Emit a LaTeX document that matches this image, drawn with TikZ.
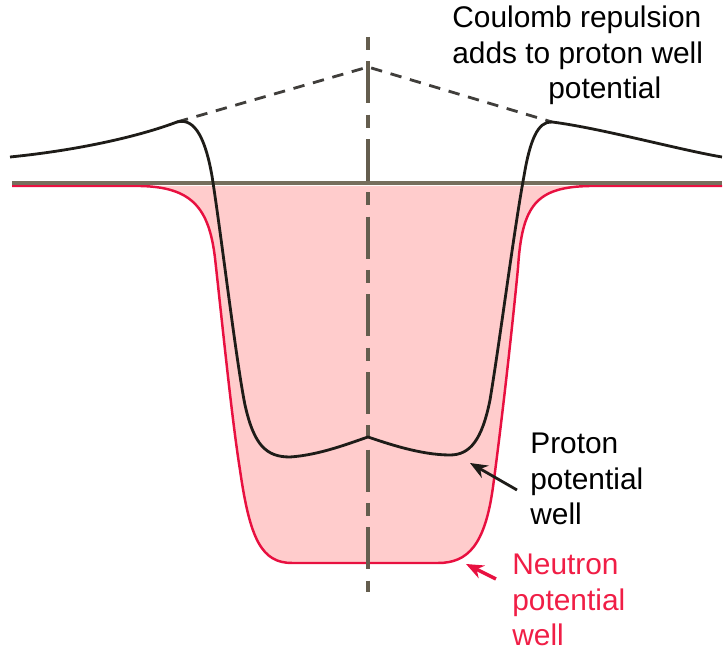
\documentclass[tikz,border=0pt]{standalone}
\usepackage{fontspec}
\setmainfont{Liberation Sans}
\usepackage{xcolor}
\usetikzlibrary{arrows.meta}
\definecolor{WellPink}{RGB}{255,204,204}
\definecolor{WellRed}{RGB}{232,16,64}
\definecolor{LabelRed}{RGB}{240,30,70}
\definecolor{BaseGray}{RGB}{118,110,92}
\definecolor{CurveBlack}{RGB}{30,28,24}

\begin{document}
\begin{tikzpicture}[x=0.02cm,y=-0.02cm,
  neutronwell/.style={draw=WellRed,fill=WellPink,line width=1.4pt,line join=round},
  protonwell/.style={draw=CurveBlack,line width=1.6pt,line join=round},
  baseline/.style={draw=BaseGray,line width=2.4pt},
  coulomb/.style={draw=CurveBlack!85,line width=1.6pt,dash pattern=on 6.5pt off 5pt},
  axis/.style={draw=BaseGray!85!black,line width=1.9pt,
               dash pattern=on 7.4pt off 6.5pt on 23.8pt off 6.5pt},
  label/.style={font=\fontsize{17}{20}\selectfont,align=left,inner sep=0pt},
  pointer/.style={-{Stealth[length=10pt,width=8pt]},line width=1.6pt},
]
\useasboundingbox (0,0) rectangle (725,651);

%% Neutron well (filled)
\path[neutronwell] (12,186) -- (140,186)
  .. controls (192,187) and (209,208) .. (215,258)
  .. controls (223,330) and (232,420) .. (240,470)
  .. controls (250,540) and (262,563) .. (292,563)
  -- (438,563)
  .. controls (468,563) and (485,545) .. (493,487)
  .. controls (502,420) and (512,330) .. (518,268)
  .. controls (522,205) and (536,187) .. (590,186)
  -- (722,186);

%% zero line
\draw[baseline] (12,183) -- (722,183);

%% symmetry axis
\draw[axis] (368,37) -- (368,592);

%% Coulomb contribution
\coordinate (lpeak) at (177,122);
\coordinate (apex)  at (368,67);
\coordinate (rpeak) at (552,122);
\draw[coulomb] (lpeak) -- (apex) -- (rpeak);

%% Proton well
\draw[protonwell] (10,157)
  .. controls (80,150) and (140,136) .. (lpeak)
  .. controls (196,117) and (206,142) .. (212,176)
  .. controls (222,240) and (236,360) .. (245,405)
  .. controls (254,445) and (266,457) .. (290,457)
  .. controls (320,455) and (350,443) .. (368,437)
  .. controls (386,443) and (420,455) .. (450,455)
  .. controls (470,455) and (482,440) .. (490,400)
  .. controls (500,340) and (514,230) .. (524,176)
  .. controls (530,140) and (538,121) .. (rpeak)
  .. controls (600,128) and (680,150) .. (722,157);

%% labels
\node[label,anchor=north west] (coulomblbl) at (452,6)
  {Coulomb repulsion\\adds to proton well\\\hspace*{1.92cm}potential};
\node[label,anchor=west] (protonlbl) at (530,479)
  {Proton\\potential\\well};
\node[label,anchor=west,text=LabelRed] (neutronlbl) at (512,600)
  {Neutron\\potential\\well};

\coordinate (ptail) at (517,490);
\coordinate (ptip)  at (470,463);
\draw[pointer,CurveBlack] (ptail) -- (ptip);
\coordinate (ntail) at (496,579);
\coordinate (ntip)  at (466,564);
\draw[pointer,WellRed,line width=2pt] (ntail) -- (ntip);

\end{tikzpicture}
\end{document}
